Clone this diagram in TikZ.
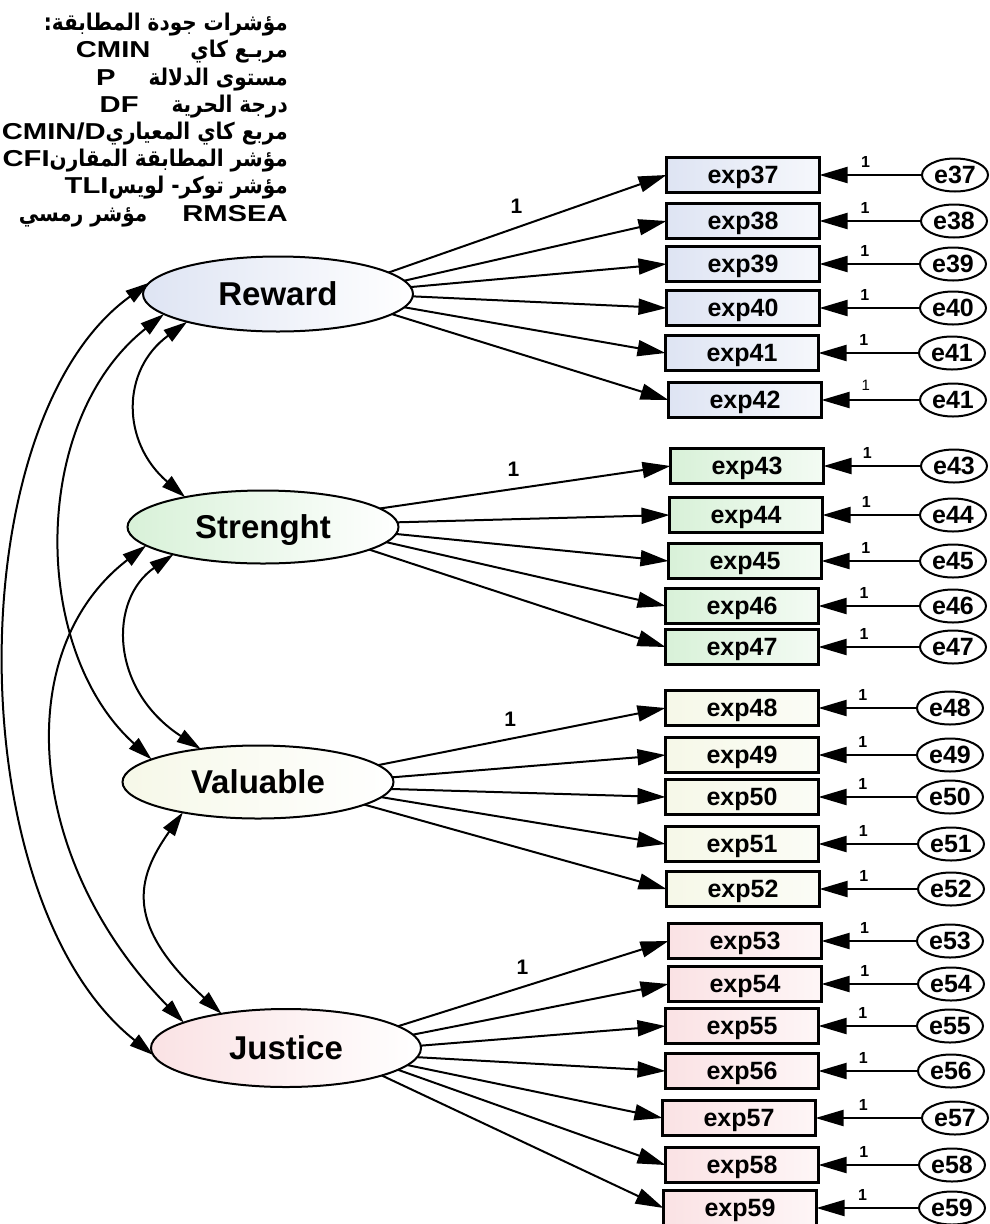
\documentclass[tikz,border=0pt]{standalone}
\usepackage{fontspec}
\setmainfont{Liberation Sans}
\newfontfamily\arabicfont[Script=Arabic]{DejaVu Sans}
\TeXXeTstate=1
\usetikzlibrary{arrows.meta,shapes.geometric}

% widened Latin and narrowed Arabic runs for the legend
\newcommand\latw[1]{\scalebox{1.27}[1]{#1}}
\newcommand\arw[1]{\scalebox{0.87}[1]{\arabicfont\beginR #1\endR}}

\definecolor{rwA}{RGB}{222,228,243}
\definecolor{rwB}{RGB}{232,236,246}
\definecolor{stA}{RGB}{216,241,216}
\definecolor{stB}{RGB}{226,245,226}
\definecolor{vaA}{RGB}{246,248,232}
\definecolor{vaB}{RGB}{248,250,240}
\definecolor{juA}{RGB}{250,226,228}
\definecolor{juB}{RGB}{252,232,234}

\tikzset{
  latent/.style={ellipse, draw, line width=2pt, inner sep=0pt, outer sep=0pt,
    text depth=0pt, font=\fontsize{33}{33}\selectfont\bfseries},
  obs/.style={rectangle, draw, line width=2.5pt, minimum width=153pt,
    minimum height=35pt, inner sep=0pt, outer sep=0pt, text depth=0pt,
    font=\fontsize{25}{25}\selectfont\bfseries},
  err/.style={ellipse, draw, line width=2pt, minimum width=66pt,
    minimum height=33pt, inner sep=0pt, outer sep=0pt, fill=white,
    text depth=0pt, font=\fontsize{25}{25}\selectfont\bfseries},
  arr/.style={line width=2pt, -{Triangle[length=28pt,width=16pt]}},
  cov/.style={line width=2pt,
    {Triangle[length=24pt,width=14pt]}-{Triangle[length=24pt,width=14pt]}},
  lblr/.style={font=\fontsize{16}{16}\selectfont\bfseries, inner sep=0pt},
  lbll/.style={font=\fontsize{21}{21}\selectfont\bfseries, inner sep=0pt},
  rwbox/.style={obs, left color=rwA, right color=rwB!40!white},
  stbox/.style={obs, left color=stA, right color=stB!40!white},
  vabox/.style={obs, left color=vaA, right color=vaB!60!white},
  jubox/.style={obs, left color=juA, right color=juB!40!white},
}

\begin{document}
\begin{tikzpicture}[x=1pt,y=-1pt]
\useasboundingbox[fill=white] (0,0) rectangle (989,1224);

% fit indices legend
\node[anchor=north east, align=right, inner sep=0pt,
      font=\fontsize{23}{27.2}\selectfont\bfseries] (legend) at (288,13) {%
  \arw{مؤشرات جودة المطابقة:}\\
  \latw{CMIN}\hspace{40pt}\arw{مربـع كاي}\\
  \latw{P}\hspace{33pt}\arw{مستوى الدلالة}\\
  \latw{DF}\hspace{33pt}\arw{درجة الحرية}\\
  \latw{CMIN/D}\arw{مربع كاي المعياري}\\
  \latw{CFI}\arw{مؤشر المطابقة المقارن}\\
  \latw{TLI}\arw{مؤشر توكر- لويس}\\
  \arw{مؤشر رمسي}\hspace{35pt}\latw{RMSEA}};

% latent factors
\node[latent, minimum width=270pt, minimum height=75pt,
      left color=rwA, right color=white] (reward) at (278,294) {Reward};
\node[latent, minimum width=271pt, minimum height=73pt,
      left color=stA, right color=white] (strenght) at (263,527) {Strenght};
\node[latent, minimum width=271pt, minimum height=73pt,
      left color=vaA, right color=white] (valuable) at (258,782) {Valuable};
\node[latent, minimum width=270pt, minimum height=78pt,
      left color=juA, right color=white] (justice) at (286,1048) {Justice};

% observed indicators
\node[rwbox] (exp37) at (743,175) {exp37};
\node[rwbox] (exp38) at (743,221) {exp38};
\node[rwbox] (exp39) at (743,264) {exp39};
\node[rwbox] (exp40) at (743,308) {exp40};
\node[rwbox] (exp41) at (742,353) {exp41};
\node[rwbox] (exp42) at (745,400) {exp42};

\node[stbox] (exp43) at (747,466) {exp43};
\node[stbox] (exp44) at (746,515) {exp44};
\node[stbox] (exp45) at (745,561) {exp45};
\node[stbox] (exp46) at (742,606) {exp46};
\node[stbox] (exp47) at (742,647) {exp47};

\node[vabox] (exp48) at (742,708) {exp48};
\node[vabox] (exp49) at (742,755) {exp49};
\node[vabox] (exp50) at (742,797) {exp50};
\node[vabox] (exp51) at (742,844) {exp51};
\node[vabox] (exp52) at (743,889) {exp52};

\node[jubox] (exp53) at (745,941) {exp53};
\node[jubox] (exp54) at (745,984) {exp54};
\node[jubox] (exp55) at (742,1026) {exp55};
\node[jubox] (exp56) at (742,1071) {exp56};
\node[jubox] (exp57) at (739,1118) {exp57};
\node[jubox] (exp58) at (742,1165) {exp58};
\node[jubox] (exp59) at (740,1208) {exp59};

% error terms
\foreach \n/\t/\x/\y in {37/e37/955/175, 38/e38/954/221, 39/e39/953/264,
    40/e40/953/308, 41/e41/952/353, 42/e41/953/400,
    43/e43/954/466, 44/e44/953/515, 45/e45/953/561, 46/e46/953/606,
    47/e47/953/647, 48/e48/950/708, 49/e49/950/755, 50/e50/950/797,
    51/e51/951/844, 52/e52/951/889, 53/e53/950/941, 54/e54/951/984,
    55/e55/950/1026, 56/e56/951/1071, 57/e57/955/1118, 58/e58/952/1165,
    59/e59/952/1208}
  \node[err] (e\n) at (\x,\y) {\t};

% error paths
\foreach \n in {37,...,41,43,44,...,59}
  \draw[arr] (e\n) -- node[lblr, pos=0.55, above=7pt] {1} (exp\n);
\draw[arr] (e42) -- node[lblr, pos=0.55, above=9pt, font=\fontsize{15}{15}\selectfont\mdseries] {1} (exp42);

% factor loadings
\draw[arr] (reward.11) -- node[lbll, pos=0.46, above=13pt] {1} (exp37.west);
\draw[arr] (reward.6) -- (exp38.west);
\draw[arr] (reward.3) -- (exp39.west);
\draw[arr] (reward.359) -- (exp40.west);
\draw[arr] (reward.354) -- (exp41.west);
\draw[arr] (reward.350) -- (exp42.west);

\draw[arr] (strenght.9) -- node[lbll, pos=0.46, above=11pt] {1} (exp43.west);
\draw[arr] (strenght.2) -- (exp44.west);
\draw[arr] (strenght.357) -- (exp45.west);
\draw[arr] (strenght.353) -- (exp46.west);
\draw[arr] (strenght.348) -- (exp47.west);

\draw[arr] (valuable.8) -- node[lbll, pos=0.46, above=11pt] {1} (exp48.west);
\draw[arr] (valuable.2) -- (exp49.west);
\draw[arr] (valuable.357) -- (exp50.west);
\draw[arr] (valuable.353) -- (exp51.west);
\draw[arr] (valuable.348) -- (exp52.west);

\draw[arr] (justice.11) -- node[lbll, pos=0.46, above=12pt] {1} (exp53.west);
\draw[arr] (justice.6) -- (exp54.west);
\draw[arr] (justice.1) -- (exp55.west);
\draw[arr] (justice.356) -- (exp56.west);
\draw[arr] (justice.352) -- (exp57.west);
\draw[arr] (justice.349) -- (exp58.west);
\draw[arr] (justice.344) -- (exp59.west);

% factor covariances
\draw[cov] (reward.175) .. controls (-42,420) and (-42,900) .. (justice.183);
\draw[cov] (reward.190) .. controls (30,420) and (30,650) .. (valuable.168);
\draw[cov] (reward.197) .. controls (121,370) and (121,442) .. (strenght.159);
\draw[cov] (strenght.189) .. controls (10,650) and (25,860) .. (justice.166);
\draw[cov] (strenght.197) .. controls (108,600) and (110,690) .. (valuable.150);
\draw[cov] (valuable.202) .. controls (135,880) and (125,925) .. (justice.152);
\end{tikzpicture}
\end{document}
